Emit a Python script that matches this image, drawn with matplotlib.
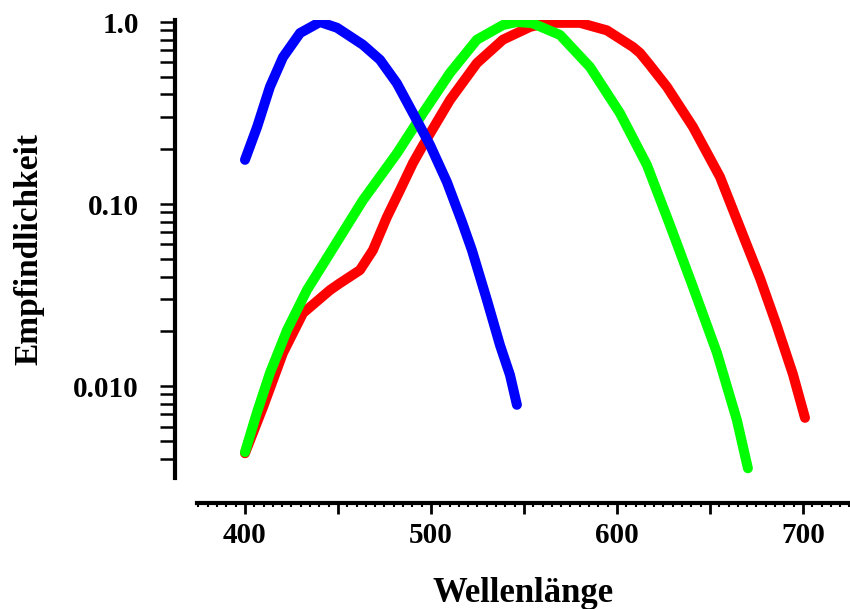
import matplotlib
matplotlib.use("Agg")
import matplotlib.pyplot as plt
from matplotlib.ticker import FixedLocator, MultipleLocator, LogLocator, NullFormatter, FixedFormatter
import numpy as np

# Data
blue_wl = [400, 406.5, 413.4, 420.4, 429.6, 440.3, 449.5, 463.4, 472.6, 481.7, 490.3, 499.5,
           508.6, 516.7, 522.0, 530.1, 537.1, 542.5, 546.2]
blue_val = [0.175, 0.265, 0.44, 0.64, 0.87, 1.0, 0.93, 0.75, 0.62, 0.46, 0.316, 0.211,
            0.132, 0.0796, 0.0559, 0.0297, 0.0168, 0.0115, 0.0079]

green_wl = [400, 406.5, 413.4, 422.6, 433.3, 445.7, 463.4, 481.7, 495.7, 510.2, 524.7, 538.7,
            546.2, 554.3, 569.4, 585.5, 601.6, 616.1, 628.5, 640.9, 653.8, 664.5, 670.4]
green_val = [0.00434, 0.0072, 0.0118, 0.0203, 0.0337, 0.0538, 0.105, 0.19, 0.316, 0.525, 0.80, 0.963,
             1.0, 0.987, 0.849, 0.566, 0.316, 0.164, 0.0767, 0.035, 0.0152, 0.0065, 0.00354]

red_wl = [400, 409.7, 420.4, 431.2, 445.7, 451.1, 461.8, 468.8, 476.3, 483.3, 490.3, 495.2,
          510.2, 524.7, 538.7, 553.2, 562.4, 580.1, 594.6, 608.6, 612.4, 617.7, 626.9, 640.9,
          655.4, 668.8, 676.9, 686.0, 694.6, 701.1]
red_val = [0.00428, 0.00767, 0.0152, 0.0252, 0.0337, 0.0368, 0.0434, 0.0559, 0.0848, 0.119, 0.168,
           0.206, 0.373, 0.595, 0.80, 0.94, 0.99, 0.99, 0.90, 0.729, 0.676, 0.58, 0.44, 0.265,
           0.141, 0.0634, 0.0392, 0.0214, 0.01164, 0.0067]

x_ticks = [400, 500, 600, 700]
y_ticks = [0.01, 0.1, 1.0]
y_tick_labels = ["0.010", "0.10", "1.0"]

plt.rcParams['font.family'] = ['Liberation Serif', 'DejaVu Serif']
plt.rcParams['font.weight'] = 'bold'

W, H = 850, 609
fig = plt.figure(figsize=(W / 100, H / 100), dpi=100)
left_px, right_px, top_px, bottom_px = 197, 850, 20, 478
ax = fig.add_axes([left_px / W, 1 - bottom_px / H, (right_px - left_px) / W, (bottom_px - top_px) / H])

for wl, v, c in [(red_wl, red_val, '#ff0000'), (green_wl, green_val, '#00ff00'), (blue_wl, blue_val, '#0000ff')]:
    ax.plot(wl, v, color=c, lw=7.2, solid_capstyle='round', solid_joinstyle='round')

ax.set_yscale('log')
ax.set_xlim(374.2, 725.3)
ax.set_ylim(0.00313, 1.026)

ax.spines['top'].set_visible(False)
ax.spines['right'].set_visible(False)
ax.spines['left'].set_position(('outward', 22 * 0.72))
ax.spines['bottom'].set_position(('outward', 25 * 0.72))
ax.spines['left'].set_linewidth(3.0)
ax.spines['bottom'].set_linewidth(3.0)

ax.xaxis.set_major_locator(MultipleLocator(50))
ax.xaxis.set_minor_locator(MultipleLocator(5))
ax.xaxis.set_major_formatter(plt.FuncFormatter(lambda v, p: f"{int(round(v))}" if int(round(v)) in x_ticks else ""))
ax.yaxis.set_major_locator(FixedLocator(y_ticks))
ax.yaxis.set_major_formatter(FixedFormatter(y_tick_labels))
ax.yaxis.set_minor_locator(LogLocator(base=10, subs=np.arange(2, 10)))
ax.yaxis.set_minor_formatter(NullFormatter())

ax.tick_params(axis='y', which='both', direction='out', length=11, width=1.8, labelsize=21, pad=15)
ax.tick_params(axis='x', which='major', direction='out', length=8, width=2.0, labelsize=21, pad=6)
ax.tick_params(axis='x', which='minor', direction='out', length=3, width=1.5)

ax.set_xlabel("Wellenlänge", fontsize=25, fontweight='bold', labelpad=20)
ax.set_ylabel("Empfindlichkeit", fontsize=24, fontweight='bold', labelpad=21)

fig.savefig("out.png", dpi=100)
